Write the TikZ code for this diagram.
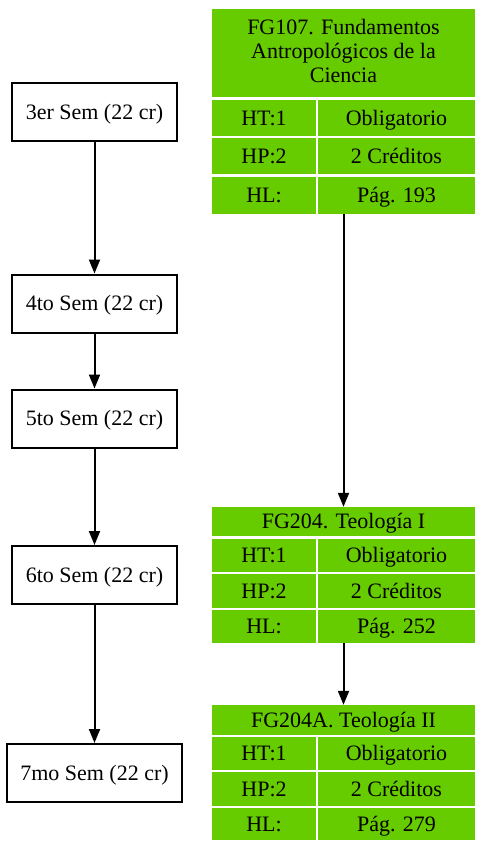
\documentclass[tikz,border=0pt]{standalone}
\usepackage{fontspec}
\setmainfont{Liberation Serif}
\usetikzlibrary{arrows.meta,fit}
\definecolor{gcol}{HTML}{66CC00}
\begin{document}
\begin{tikzpicture}[x=1pt,y=-1pt,
  txt/.style={font=\fontsize{22}{23.5}\selectfont},
  sem/.style={txt, draw, line width=2pt, minimum height=58pt, inner sep=0pt, text height=14.5pt, text depth=0pt},
  cell/.style={fill=gcol, inner sep=0pt},
  ctext/.style={txt, align=center, inner sep=0pt, text height=14.5pt, text depth=0pt},
  ltext/.style={txt, inner sep=0pt, anchor=base},
  whole/.style={inner sep=0pt, draw=none},
  arr/.style={line width=2pt, -{Triangle[length=14pt,width=11pt]}},
  ]
\useasboundingbox (0,0) rectangle (483,850);
% semester boxes
\node[sem, minimum width=165pt] (s3) at (94.5,112) {3er Sem (22 cr)};
\node[sem, minimum width=165pt] (s4) at (94.5,303.5) {4to Sem (22 cr)};
\node[sem, minimum width=165pt] (s5) at (94.5,418.5) {5to Sem (22 cr)};
\node[sem, minimum width=165pt] (s6) at (94.5,575) {6to Sem (22 cr)};
\node[sem, minimum width=175pt] (s7) at (94.5,773) {7mo Sem (22 cr)};
\draw[arr] (s3) -- (s4);
\draw[arr] (s4) -- (s5);
\draw[arr] (s5) -- (s6);
\draw[arr] (s6) -- (s7);
% table 1
\node[whole, fit={(212,9) (475,214)}] (t1) {};
\node[cell, fit={(212,9) (475,97)}] (t1h) {};
\node[ltext] (t1l1) at (343.5,35) {FG107. Fundamentos};
\node[ltext] (t1l2) at (343.5,59) {Antropológicos de la};
\node[ltext] (t1l3) at (343.5,82.5) {Ciencia};
\node[cell, fit={(212,100) (316,136)}, label={[ctext]center:HT:1}] (t1a) {};
\node[cell, fit={(318,100) (475,136)}, label={[ctext]center:Obligatorio}] (t1b) {};
\node[cell, fit={(212,138) (316,174)}, label={[ctext]center:HP:2}] (t1c) {};
\node[cell, fit={(318,138) (475,174)}, label={[ctext]center:2 Créditos}] (t1d) {};
\node[cell, fit={(212,177) (316,214)}, label={[ctext]center:HL:}] (t1e) {};
\node[cell, fit={(318,177) (475,214)}, label={[ctext]center:Pág. 193}] (t1f) {};
% table 2
\node[whole, fit={(212,507) (475,643)}] (t2) {};
\node[cell, fit={(212,507) (475,536)}, label={[ctext]center:FG204. Teología I}] (t2h) {};
\node[cell, fit={(212,539) (316,572)}, label={[ctext]center:HT:1}] (t2a) {};
\node[cell, fit={(318,539) (475,572)}, label={[ctext]center:Obligatorio}] (t2b) {};
\node[cell, fit={(212,574) (316,608)}, label={[ctext]center:HP:2}] (t2c) {};
\node[cell, fit={(318,574) (475,608)}, label={[ctext]center:2 Créditos}] (t2d) {};
\node[cell, fit={(212,610) (316,643)}, label={[ctext]center:HL:}] (t2e) {};
\node[cell, fit={(318,610) (475,643)}, label={[ctext]center:Pág. 252}] (t2f) {};
% table 3
\node[whole, fit={(212,705) (475,840)}] (t3) {};
\node[cell, fit={(212,705) (475,735)}, label={[ctext]center:FG204A. Teología II}] (t3h) {};
\node[cell, fit={(212,737) (316,770)}, label={[ctext]center:HT:1}] (t3a) {};
\node[cell, fit={(318,737) (475,770)}, label={[ctext]center:Obligatorio}] (t3b) {};
\node[cell, fit={(212,772) (316,806)}, label={[ctext]center:HP:2}] (t3c) {};
\node[cell, fit={(318,772) (475,806)}, label={[ctext]center:2 Créditos}] (t3d) {};
\node[cell, fit={(212,808) (316,840)}, label={[ctext]center:HL:}] (t3e) {};
\node[cell, fit={(318,808) (475,840)}, label={[ctext]center:Pág. 279}] (t3f) {};
\draw[arr] (t1) -- (t2);
\draw[arr] (t2) -- (t3);
\end{tikzpicture}
\end{document}
